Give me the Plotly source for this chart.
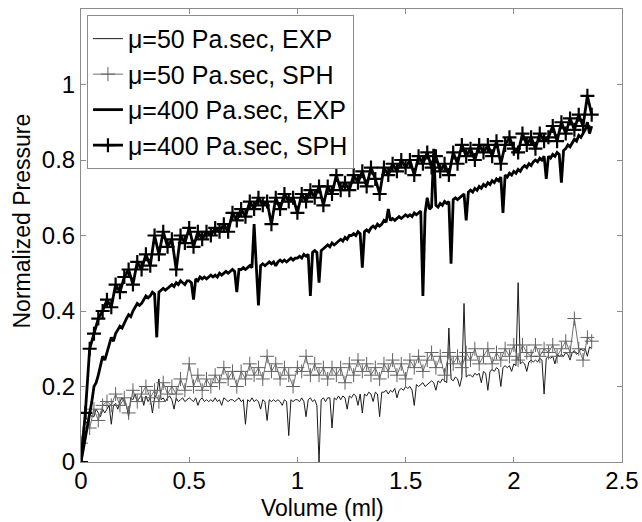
import plotly.graph_objects as go

# SPH samples (every 0.02 ml)
volume_sph = [0.00, 0.02, 0.04, 0.06, 0.08, 0.10, 0.12, 0.14, 0.16, 0.18,
              0.20, 0.22, 0.24, 0.26, 0.28, 0.30, 0.32, 0.34, 0.36, 0.38,
              0.40, 0.42, 0.44, 0.46, 0.48, 0.50, 0.52, 0.54, 0.56, 0.58,
              0.60, 0.62, 0.64, 0.66, 0.68, 0.70, 0.72, 0.74, 0.76, 0.78,
              0.80, 0.82, 0.84, 0.86, 0.88, 0.90, 0.92, 0.94, 0.96, 0.98,
              1.00, 1.02, 1.04, 1.06, 1.08, 1.10, 1.12, 1.14, 1.16, 1.18,
              1.20, 1.22, 1.24, 1.26, 1.28, 1.30, 1.32, 1.34, 1.36, 1.38,
              1.40, 1.42, 1.44, 1.46, 1.48, 1.50, 1.52, 1.54, 1.56, 1.58,
              1.60, 1.62, 1.64, 1.66, 1.68, 1.70, 1.72, 1.74, 1.76, 1.78,
              1.80, 1.82, 1.84, 1.86, 1.88, 1.90, 1.92, 1.94, 1.96, 1.98,
              2.00, 2.02, 2.04, 2.06, 2.08, 2.10, 2.12, 2.14, 2.16, 2.18,
              2.20, 2.22, 2.24, 2.26, 2.28, 2.30, 2.32, 2.34, 2.36]

# EXP samples (every 0.01 ml)
volume_exp = [0.00, 0.01, 0.02, 0.03, 0.04, 0.05, 0.06, 0.07, 0.08, 0.09,
              0.10, 0.11, 0.12, 0.13, 0.14, 0.15, 0.16, 0.17, 0.18, 0.19,
              0.20, 0.21, 0.22, 0.23, 0.24, 0.25, 0.26, 0.27, 0.28, 0.29,
              0.30, 0.31, 0.32, 0.33, 0.34, 0.35, 0.36, 0.37, 0.38, 0.39,
              0.40, 0.41, 0.42, 0.43, 0.44, 0.45, 0.46, 0.47, 0.48, 0.49,
              0.50, 0.51, 0.52, 0.53, 0.54, 0.55, 0.56, 0.57, 0.58, 0.59,
              0.60, 0.61, 0.62, 0.63, 0.64, 0.65, 0.66, 0.67, 0.68, 0.69,
              0.70, 0.71, 0.72, 0.73, 0.74, 0.75, 0.76, 0.77, 0.78, 0.79,
              0.80, 0.81, 0.82, 0.83, 0.84, 0.85, 0.86, 0.87, 0.88, 0.89,
              0.90, 0.91, 0.92, 0.93, 0.94, 0.95, 0.96, 0.97, 0.98, 0.99,
              1.00, 1.01, 1.02, 1.03, 1.04, 1.05, 1.06, 1.07, 1.08, 1.09,
              1.10, 1.11, 1.12, 1.13, 1.14, 1.15, 1.16, 1.17, 1.18, 1.19,
              1.20, 1.21, 1.22, 1.23, 1.24, 1.25, 1.26, 1.27, 1.28, 1.29,
              1.30, 1.31, 1.32, 1.33, 1.34, 1.35, 1.36, 1.37, 1.38, 1.39,
              1.40, 1.41, 1.42, 1.43, 1.44, 1.45, 1.46, 1.47, 1.48, 1.49,
              1.50, 1.51, 1.52, 1.53, 1.54, 1.55, 1.56, 1.57, 1.58, 1.59,
              1.60, 1.61, 1.62, 1.63, 1.64, 1.65, 1.66, 1.67, 1.68, 1.69,
              1.70, 1.71, 1.72, 1.73, 1.74, 1.75, 1.76, 1.77, 1.78, 1.79,
              1.80, 1.81, 1.82, 1.83, 1.84, 1.85, 1.86, 1.87, 1.88, 1.89,
              1.90, 1.91, 1.92, 1.93, 1.94, 1.95, 1.96, 1.97, 1.98, 1.99,
              2.00, 2.01, 2.02, 2.03, 2.04, 2.05, 2.06, 2.07, 2.08, 2.09,
              2.10, 2.11, 2.12, 2.13, 2.14, 2.15, 2.16, 2.17, 2.18, 2.19,
              2.20, 2.21, 2.22, 2.23, 2.24, 2.25, 2.26, 2.27, 2.28, 2.29,
              2.30, 2.31, 2.32, 2.33, 2.34, 2.35, 2.36]

p50_exp = [0.04, 0.07, 0.11, 0.10, 0.13, 0.12, 0.12, 0.14, 0.13, 0.12,
           0.14, 0.13, 0.14, 0.15, 0.10, 0.15, 0.155, 0.14, 0.16, 0.17,
           0.16, 0.15, 0.12, 0.17, 0.165, 0.18, 0.16, 0.17, 0.175, 0.15,
           0.175, 0.16, 0.17, 0.13, 0.17, 0.18, 0.22, 0.165, 0.17, 0.16,
           0.17, 0.175, 0.165, 0.14, 0.17, 0.16, 0.165, 0.17, 0.16, 0.165,
           0.17, 0.165, 0.16, 0.17, 0.15, 0.165, 0.17, 0.16, 0.165, 0.16,
           0.165, 0.16, 0.17, 0.16, 0.165, 0.15, 0.17, 0.165, 0.16, 0.165,
           0.165, 0.16, 0.165, 0.17, 0.16, 0.165, 0.10, 0.165, 0.16, 0.17,
           0.16, 0.165, 0.16, 0.14, 0.165, 0.16, 0.11, 0.165, 0.16, 0.165,
           0.16, 0.165, 0.16, 0.15, 0.165, 0.16, 0.07, 0.165, 0.16, 0.165,
           0.165, 0.16, 0.17, 0.16, 0.12, 0.165, 0.17, 0.16, 0.165, 0.15,
           0.00, 0.165, 0.17, 0.16, 0.17, 0.17, 0.09, 0.17, 0.165, 0.175,
           0.165, 0.175, 0.17, 0.14, 0.175, 0.17, 0.18, 0.175, 0.15, 0.18,
           0.13, 0.18, 0.175, 0.185, 0.18, 0.16, 0.185, 0.18, 0.12, 0.185,
           0.185, 0.19, 0.18, 0.19, 0.185, 0.195, 0.17, 0.19, 0.195, 0.19,
           0.20, 0.195, 0.20, 0.19, 0.15, 0.205, 0.20, 0.205, 0.21, 0.20,
           0.205, 0.21, 0.215, 0.21, 0.19, 0.215, 0.21, 0.22, 0.215, 0.21,
           0.355, 0.22, 0.215, 0.225, 0.22, 0.20, 0.225, 0.42, 0.225, 0.23,
           0.23, 0.225, 0.235, 0.23, 0.235, 0.21, 0.24, 0.235, 0.19, 0.24,
           0.245, 0.24, 0.25, 0.245, 0.20, 0.25, 0.255, 0.25, 0.255, 0.24,
           0.26, 0.255, 0.475, 0.26, 0.265, 0.26, 0.24, 0.265, 0.27, 0.265,
           0.27, 0.265, 0.275, 0.27, 0.18, 0.275, 0.28, 0.275, 0.28, 0.26,
           0.285, 0.28, 0.285, 0.28, 0.29, 0.285, 0.27, 0.29, 0.295, 0.285,
           0.29, 0.30, 0.295, 0.30, 0.28, 0.305, 0.30]

p50_sph = [0.05, 0.13, 0.09, 0.14, 0.11, 0.15, 0.16, 0.15, 0.18, 0.15,
           0.17, 0.13, 0.19, 0.16, 0.18, 0.20, 0.17, 0.19, 0.16, 0.21,
           0.18, 0.20, 0.18, 0.22, 0.19, 0.26, 0.20, 0.23, 0.19, 0.22,
           0.20, 0.23, 0.21, 0.25, 0.22, 0.24, 0.20, 0.24, 0.22, 0.26,
           0.23, 0.25, 0.22, 0.28, 0.24, 0.26, 0.22, 0.25, 0.23, 0.20,
           0.25, 0.24, 0.28, 0.23, 0.26, 0.23, 0.25, 0.22, 0.25, 0.23,
           0.25, 0.21, 0.26, 0.23, 0.27, 0.24, 0.26, 0.23, 0.25, 0.22,
           0.26, 0.24, 0.27, 0.23, 0.26, 0.22, 0.27, 0.25, 0.28, 0.24,
           0.27, 0.29, 0.25, 0.28, 0.23, 0.29, 0.26, 0.28, 0.25, 0.29,
           0.27, 0.30, 0.26, 0.28, 0.30, 0.26, 0.29, 0.27, 0.30, 0.28,
           0.31, 0.27, 0.31, 0.29, 0.28, 0.31, 0.28, 0.30, 0.29, 0.31,
           0.28, 0.30, 0.32, 0.29, 0.38, 0.30, 0.27, 0.33, 0.32]

p400_exp = [0.00, 0.03, 0.07, 0.10, 0.12, 0.16, 0.20, 0.21, 0.23, 0.26,
            0.28, 0.27, 0.29, 0.31, 0.33, 0.32, 0.34, 0.35, 0.36, 0.355,
            0.37, 0.38, 0.39, 0.385, 0.40, 0.41, 0.42, 0.415, 0.42, 0.43,
            0.44, 0.435, 0.44, 0.45, 0.445, 0.33, 0.45, 0.455, 0.46, 0.455,
            0.46, 0.465, 0.47, 0.465, 0.475, 0.47, 0.48, 0.475, 0.47, 0.48,
            0.48, 0.475, 0.43, 0.485, 0.48, 0.49, 0.485, 0.49, 0.485, 0.49,
            0.495, 0.49, 0.495, 0.49, 0.50, 0.495, 0.50, 0.505, 0.50, 0.505,
            0.51, 0.505, 0.45, 0.51, 0.51, 0.515, 0.51, 0.515, 0.52, 0.515,
            0.63, 0.52, 0.415, 0.52, 0.525, 0.52, 0.525, 0.53, 0.525, 0.53,
            0.52, 0.53, 0.535, 0.53, 0.535, 0.53, 0.535, 0.54, 0.535, 0.54,
            0.54, 0.545, 0.54, 0.55, 0.545, 0.55, 0.44, 0.555, 0.56, 0.555,
            0.475, 0.56, 0.565, 0.57, 0.575, 0.57, 0.58, 0.575, 0.58, 0.585,
            0.59, 0.585, 0.595, 0.59, 0.60, 0.60, 0.605, 0.60, 0.61, 0.605,
            0.515, 0.61, 0.615, 0.61, 0.62, 0.625, 0.62, 0.63, 0.625, 0.63,
            0.64, 0.635, 0.67, 0.64, 0.645, 0.64, 0.645, 0.65, 0.645, 0.65,
            0.655, 0.65, 0.655, 0.65, 0.66, 0.655, 0.66, 0.665, 0.44, 0.66,
            0.70, 0.67, 0.675, 0.83, 0.68, 0.675, 0.685, 0.68, 0.69, 0.685,
            0.69, 0.525, 0.695, 0.70, 0.695, 0.70, 0.705, 0.71, 0.64, 0.715,
            0.72, 0.715, 0.725, 0.72, 0.73, 0.725, 0.735, 0.73, 0.74, 0.735,
            0.745, 0.74, 0.75, 0.745, 0.755, 0.66, 0.76, 0.755, 0.765, 0.76,
            0.77, 0.765, 0.775, 0.77, 0.78, 0.785, 0.78, 0.79, 0.785, 0.795,
            0.80, 0.795, 0.805, 0.80, 0.81, 0.75, 0.81, 0.805, 0.815, 0.81,
            0.82, 0.815, 0.74, 0.825, 0.83, 0.84, 0.835, 0.845, 0.855, 0.85,
            0.865, 0.86, 0.87, 0.88, 0.90, 0.87, 0.89]

p400_sph = [0.00, 0.13, 0.30, 0.34, 0.38, 0.40, 0.43, 0.41, 0.47, 0.45,
            0.49, 0.51, 0.47, 0.53, 0.51, 0.55, 0.52, 0.60, 0.55, 0.61,
            0.57, 0.59, 0.51, 0.60, 0.58, 0.62, 0.57, 0.61, 0.59, 0.61,
            0.60, 0.62, 0.61, 0.63, 0.61, 0.66, 0.64, 0.67, 0.65, 0.69,
            0.67, 0.70, 0.68, 0.69, 0.63, 0.70, 0.67, 0.71, 0.69, 0.70,
            0.66, 0.71, 0.69, 0.72, 0.70, 0.73, 0.68, 0.73, 0.71, 0.76,
            0.72, 0.74, 0.72, 0.76, 0.74, 0.77, 0.73, 0.78, 0.75, 0.71,
            0.78, 0.76, 0.79, 0.77, 0.80, 0.78, 0.80, 0.76, 0.81, 0.79,
            0.82, 0.78, 0.81, 0.77, 0.79, 0.76, 0.82, 0.79, 0.84, 0.81,
            0.83, 0.80, 0.84, 0.82, 0.84, 0.81, 0.85, 0.79, 0.84, 0.86,
            0.83, 0.82, 0.87, 0.84, 0.86, 0.83, 0.87, 0.85, 0.86, 0.89,
            0.85, 0.90, 0.87, 0.91, 0.88, 0.92, 0.89, 0.97, 0.92]

series_names = ["\u03bc=50 Pa.sec, EXP", "\u03bc=50 Pa.sec, SPH",
                "\u03bc=400 Pa.sec, EXP", "\u03bc=400 Pa.sec, SPH"]
x_title = "Volume (ml)"
y_title = "Normalized Pressure"

x_ticks = [0, 0.5, 1, 1.5, 2, 2.5]
x_tick_labels = ["0", "0.5", "1", "1.5", "2", "2.5"]
y_ticks = [0, 0.2, 0.4, 0.6, 0.8, 1.0]
y_tick_labels = ["0", "0.2", "0.4", "0.6", "0.8", "1"]

FONT = "Liberation Sans, Arial, sans-serif"

fig = go.Figure()
fig.add_trace(go.Scatter(x=volume_exp, y=p50_exp, mode="lines", name=series_names[0],
                         line=dict(color="#1a1a1a", width=1), legendgroup="a"))
fig.add_trace(go.Scatter(x=volume_sph, y=p50_sph, mode="lines+markers", name=series_names[1],
                         line=dict(color="#707070", width=1), legendgroup="b",
                         marker=dict(symbol="cross-thin", size=10,
                                     line=dict(color="#606060", width=1))))
fig.add_trace(go.Scatter(x=volume_exp, y=p400_exp, mode="lines", name=series_names[2],
                         line=dict(color="#000000", width=2.8), legendgroup="c"))
fig.add_trace(go.Scatter(x=volume_sph, y=p400_sph, mode="lines+markers", name=series_names[3],
                         line=dict(color="#000000", width=2.8), legendgroup="d",
                         marker=dict(symbol="cross-thin", size=10,
                                     line=dict(color="#000000", width=2.2))))

axis_common = dict(showline=True, linecolor="#8c8c8c", linewidth=1, mirror="ticks",
                   ticks="inside", ticklen=5, tickcolor="#8c8c8c", showgrid=False,
                   zeroline=False, automargin=False,
                   tickfont=dict(family=FONT, size=24, color="#000"))

fig.update_xaxes(range=[0, 2.5], tickvals=x_ticks, ticktext=x_tick_labels,
                 ticklabelstandoff=-3, **axis_common)
fig.update_yaxes(range=[0, 1.2], tickvals=y_ticks, ticktext=y_tick_labels, **axis_common)

fig.add_annotation(text=x_title, xref="paper", yref="paper", x=0.4473, y=-0.101,
                   xanchor="center", yanchor="middle", showarrow=False,
                   font=dict(family=FONT, size=23, color="#000"))
fig.add_annotation(text=y_title, xref="paper", yref="paper", x=-0.109, y=0.531,
                   xanchor="center", yanchor="middle", showarrow=False, textangle=-90,
                   font=dict(family=FONT, size=23, color="#000"))

fig.update_layout(
    width=642, height=522,
    margin=dict(l=81, r=20, t=9, b=60),
    paper_bgcolor="white", plot_bgcolor="white",
    showlegend=True,
    legend=dict(x=0.011, y=0.987, xanchor="left", yanchor="top",
                bgcolor="white", bordercolor="#8c8c8c", borderwidth=1,
                font=dict(family=FONT, size=25, color="#000"),
                tracegroupgap=0, itemwidth=30),
)

fig.write_html("out.html", config={"displayModeBar": False},
               post_script="document.body.style.margin='0';document.body.style.padding='0';")
